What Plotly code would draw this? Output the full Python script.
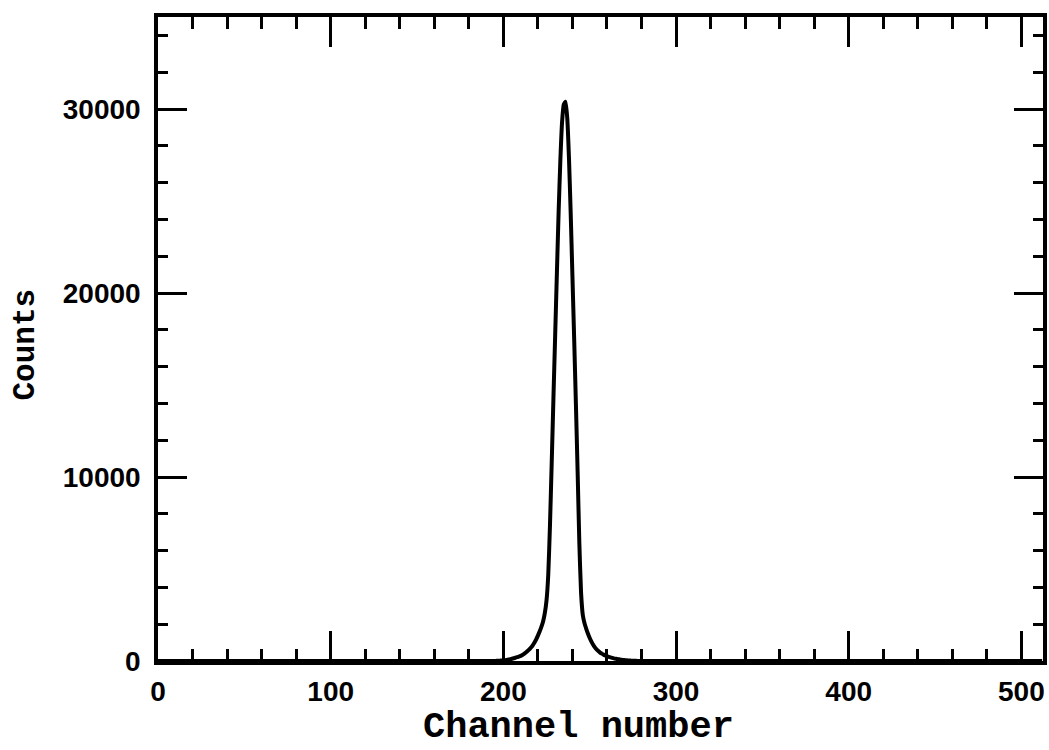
import plotly.graph_objects as go

# Data
channels = [0] + list(range(190, 286)) + [512]
counts = [0,
    0, 0, 0, 0, 2, 4, 8, 12, 18, 26,            # 190-199
    36, 48, 62, 80, 100, 125, 150, 175, 205, 240,  # 200-209
    280, 330, 390, 460, 540, 630, 730, 850, 1000, 1180,  # 210-219
    1380, 1600, 1850, 2150, 2600, 3300, 4700, 7400, 10800, 14300,  # 220-229
    17700, 21100, 24400, 27200, 29300, 30250, 30400, 29500, 27300, 24300,  # 230-239
    20900, 17500, 14000, 10300, 6400, 3700, 2500, 2050, 1750, 1480,  # 240-249
    1250, 1050, 880, 740, 630, 540, 460, 400, 345, 300,  # 250-259
    260, 225, 195, 170, 145, 125, 105, 90, 75, 62,  # 260-269
    50, 40, 32, 25, 19, 14, 10, 7, 5, 3,  # 270-279
    2, 1, 0, 0, 0, 0,  # 280-285
    0]

x_ticks = [0, 100, 200, 300, 400, 500]
y_ticks = [0, 10000, 20000, 30000]
x_title = "Channel number"
y_title = "Counts"

fig = go.Figure()
fig.add_trace(go.Scatter(
    x=channels, y=counts, mode="lines",
    line=dict(color="black", width=4, shape="spline", smoothing=0.5),
    showlegend=False, hoverinfo="skip",
))

tickfont = dict(family="Liberation Sans", size=28, color="black", weight="bold")

fig.update_layout(
    width=1049, height=750,
    margin=dict(l=158, r=2, t=17, b=89),
    paper_bgcolor="white", plot_bgcolor="white",
    xaxis=dict(
        range=[0, 512.5], tickvals=x_ticks, ticktext=[str(v) for v in x_ticks],
        ticks="inside", ticklen=30, tickwidth=2.5, tickcolor="black",
        minor=dict(dtick=20, tick0=0, ticks="inside", ticklen=12, tickwidth=2.5, tickcolor="black"),
        showline=True, linecolor="black", linewidth=3.5, mirror="ticks",
        showgrid=False, zeroline=False, tickfont=tickfont, ticklabelstandoff=3,
    ),
    yaxis=dict(
        range=[0, 35000], tickvals=y_ticks, ticktext=[str(v) for v in y_ticks],
        ticks="inside", ticklen=29, tickwidth=2.5, tickcolor="black",
        minor=dict(dtick=2000, tick0=0, ticks="inside", ticklen=10, tickwidth=2.5, tickcolor="black"),
        showline=True, linecolor="black", linewidth=3.5, mirror="ticks",
        showgrid=False, zeroline=False, tickfont=tickfont, ticklabelstandoff=8,
    ),
    annotations=[
        dict(text=x_title, xref="paper", yref="paper", x=0.475, y=-0.066,
             xanchor="center", yanchor="top", showarrow=False,
             font=dict(family="Liberation Mono", size=37, color="black", weight="bold")),
        dict(text=y_title, xref="paper", yref="paper", x=-0.1495, y=0.491,
             xanchor="center", yanchor="middle", showarrow=False, textangle=-90,
             font=dict(family="Liberation Mono", size=31, color="black", weight="bold")),
    ],
)

fig.write_html("out.html")
